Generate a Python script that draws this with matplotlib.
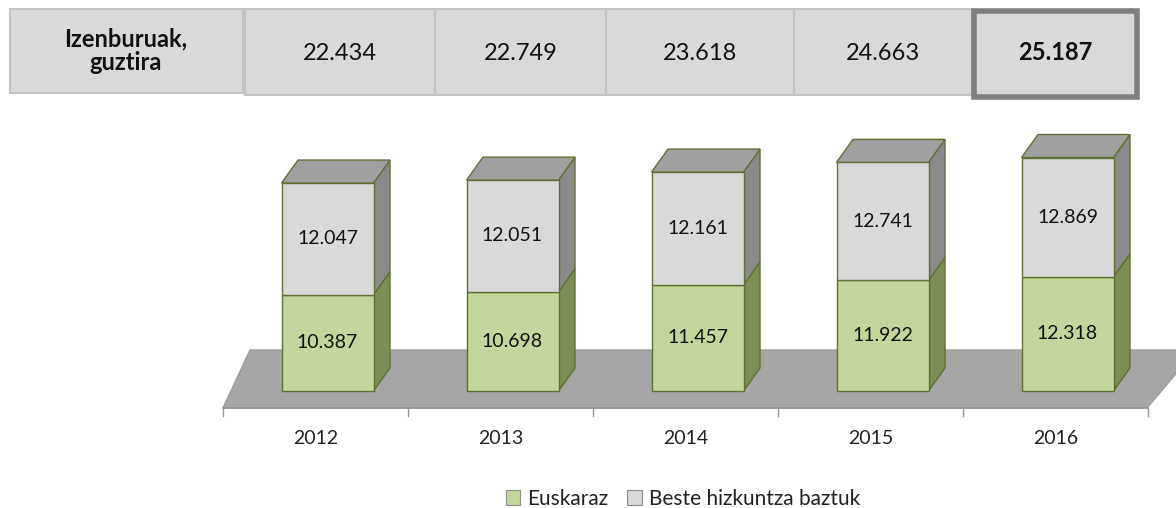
import matplotlib
matplotlib.use('Agg')
import matplotlib.pyplot as plt
import matplotlib.transforms as mtransforms
from matplotlib.patches import Polygon, Rectangle, Patch

# ---------------- data ----------------
years = ['2012', '2013', '2014', '2015', '2016']
euskaraz = [10387, 10698, 11457, 11922, 12318]
beste = [12047, 12051, 12161, 12741, 12869]
totals = [22434, 22749, 23618, 24663, 25187]
series_names = ['Euskaraz', 'Beste hizkuntza baztuk']
table_label = 'Izenburuak,\nguztira'


def fmt(v):
    return f'{v:,}'.replace(',', '.')


FONT = ['Lato', 'DejaVu Sans']
plt.rcParams['font.family'] = FONT

W, H = 1176, 508
fig = plt.figure(figsize=(W / 100, H / 100), dpi=100)
fig.patch.set_facecolor('white')

# pixel transform (origin top-left) for the header table
PIX = mtransforms.Affine2D().scale(1 / W, -1 / H).translate(0, 1) + fig.transFigure

# ---------------- chart axes ----------------
cat_px = 185.0      # pixel width of a category
x0_px = 315.5       # pixel centre of first category
k = 0.00927         # pixels per unit
base_px = 391.0     # pixel row of value 0 (front face)

ax = fig.add_axes([0, 0, 1, 1])
ax.set_xlim(-x0_px / cat_px, (W - x0_px) / cat_px)
ax.set_ylim((base_px - H) / k, base_px / k)
ax.axis('off')


def px2x(px):
    return (px - x0_px) / cat_px


def py2y(py):
    return (base_px - py) / k


# floor (perspective plane)
floor = Polygon([(px2x(223), py2y(408)), (px2x(250), py2y(350)),
                 (px2x(1196), py2y(350)), (px2x(1147), py2y(408))],
                closed=True, facecolor='#a6a6a6', edgecolor='#9c9c9c',
                linewidth=1, zorder=1)
ax.add_patch(floor)
n = len(years)
ax.plot([-0.5, n - 0.5], [py2y(408), py2y(408)], color='#959595', lw=1.2, zorder=2)
for b in range(n + 1):
    ax.plot([b - 0.5, b - 0.5], [py2y(408), py2y(416)], color='#959595', lw=1, zorder=2)

# bars
bw = 92 / cat_px
off = 12 / cat_px
dx = 16.5 / cat_px
dy = 23 / k
edge = '#5e7132'
green_front, green_side = '#c3d69b', '#7c8d55'
grey_front, grey_side, top_col = '#d9d9d9', '#8a8a8a', '#a0a0a0'

for i in range(n):
    xl = i - bw / 2 + off
    xr = xl + bw
    segs = [(0, euskaraz[i], green_front, green_side),
            (euskaraz[i], euskaraz[i] + beste[i], grey_front, grey_side)]
    for (b0, b1, fc, sc) in segs:
        side = Polygon([(xr, b0), (xr + dx, b0 + dy), (xr + dx, b1 + dy), (xr, b1)],
                       closed=True, facecolor=sc, edgecolor=edge, lw=1, zorder=3)
        ax.add_patch(side)
        front = Rectangle((xl, b0), bw, b1 - b0, facecolor=fc, edgecolor=edge,
                          lw=1, zorder=4)
        ax.add_patch(front)
    top = euskaraz[i] + beste[i]
    ax.add_patch(Polygon([(xl, top), (xl + dx, top + dy), (xr + dx, top + dy), (xr, top)],
                         closed=True, facecolor=top_col, edgecolor=edge, lw=1, zorder=4))
    ax.text(i + off, euskaraz[i] / 2, fmt(euskaraz[i]), ha='center', va='center',
            fontsize=14, color='#111111', zorder=6)
    ax.text(i + off, euskaraz[i] + beste[i] / 2, fmt(beste[i]), ha='center', va='center',
            fontsize=14, color='#111111', zorder=6)
    ax.text(i, py2y(438), years[i], ha='center', va='center', fontsize=14,
            color='#222222', zorder=6)

# ---------------- header table ----------------
cell_fc = '#d9d9d9'
fig.patches.append(Rectangle((10, 9), 233, 84, transform=PIX, facecolor=cell_fc,
                             edgecolor='#c3c3c3', lw=1.5))
fig.text(126, 51, table_label, transform=PIX, ha='center', va='center',
         fontsize=17, fontweight='bold', color='#111111', linespacing=1.05)

edges = [245, 435, 606, 794, 972, 1139]
for j in range(len(totals)):
    x_a, x_b = edges[j], edges[j + 1]
    last = (j == len(totals) - 1)
    if last:
        fig.patches.append(Rectangle((x_a + 2, 11), x_b - x_a - 4, 86, transform=PIX,
                                     facecolor=cell_fc, edgecolor='#7f7f7f', lw=4))
    else:
        fig.patches.append(Rectangle((x_a, 9), x_b - x_a, 86, transform=PIX,
                                     facecolor=cell_fc, edgecolor='#c3c3c3', lw=1.5))
    fig.text((x_a + x_b) / 2, 53, fmt(totals[j]), transform=PIX, ha='center',
             va='center', fontsize=17, color='#111111',
             fontweight='bold' if last else 'normal')

# ---------------- legend ----------------
handles = [Patch(facecolor=green_front, edgecolor='#8c8c8c', lw=0.8),
           Patch(facecolor=grey_front, edgecolor='#8c8c8c', lw=0.8)]
fig.legend(handles=handles, labels=series_names, loc='center',
           bbox_to_anchor=(683 / W, 1 - 499 / H), ncol=2, frameon=False,
           fontsize=15, handlelength=0.7, handleheight=0.7, handletextpad=0.35,
           columnspacing=0.9, borderpad=0, labelcolor='#222222')

fig.savefig('out.png', dpi=100)
